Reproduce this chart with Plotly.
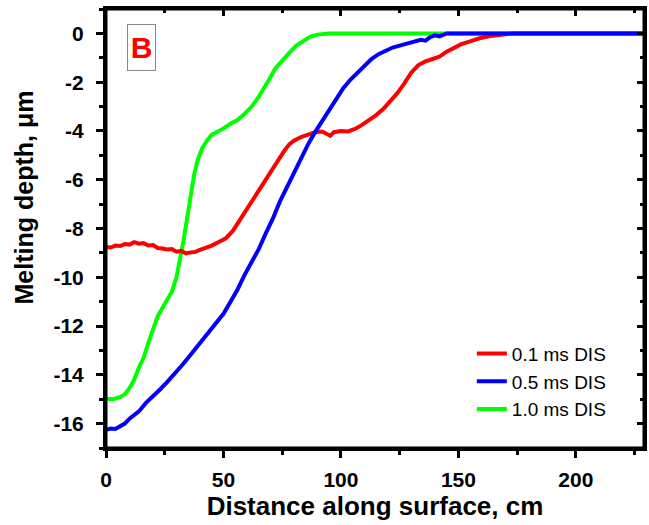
import plotly.graph_objects as go

# 0.1 ms DIS (red)
red_x = [0, 2, 4, 6, 8, 10, 12, 14, 16, 18, 20, 22, 24, 26, 28, 30, 32, 34, 36, 38, 40, 42, 45, 48, 51, 54, 56, 58, 60, 62, 64, 66, 68, 70, 72, 74, 76, 78, 80, 83, 86, 89, 92, 94, 95.5, 97, 100, 103, 106, 109, 112, 115, 118, 121, 124, 127, 130, 133, 136, 139, 142, 145, 148, 151, 155, 159, 163, 168, 173, 229]
red_y = [-8.76, -8.78, -8.7, -8.72, -8.64, -8.66, -8.56, -8.62, -8.6, -8.7, -8.68, -8.8, -8.82, -8.86, -8.84, -8.95, -8.92, -9.02, -8.98, -8.96, -8.88, -8.82, -8.7, -8.55, -8.4, -8.1, -7.8, -7.5, -7.2, -6.9, -6.6, -6.3, -6.0, -5.7, -5.35, -5.05, -4.8, -4.55, -4.4, -4.25, -4.15, -4.05, -4.02, -4.1, -4.2, -4.05, -4.0, -4.02, -3.92, -3.75, -3.55, -3.35, -3.1, -2.8, -2.45, -2.05, -1.6, -1.3, -1.15, -1.05, -0.95, -0.75, -0.6, -0.45, -0.33, -0.2, -0.12, -0.05, 0, 0]

# 0.5 ms DIS (blue)
blue_x = [0, 2, 4, 6, 8, 10, 12, 14, 17, 20, 23, 26, 29, 32, 35, 38, 41, 44, 47, 50, 53, 56, 59, 62, 65, 68, 71, 74, 77, 80, 83, 86, 89, 92, 95, 98, 101, 104, 107, 110, 113, 116, 119, 122, 125, 128, 131, 134, 136, 138, 140, 142, 145, 229]
blue_y = [-16.25, -16.2, -16.22, -16.1, -16.0, -15.8, -15.65, -15.5, -15.15, -14.9, -14.6, -14.3, -14.0, -13.65, -13.3, -12.95, -12.6, -12.25, -11.9, -11.5, -11.0, -10.5, -9.9, -9.4, -8.85, -8.2, -7.6, -6.9, -6.3, -5.7, -5.1, -4.55, -4.05, -3.6, -3.1, -2.65, -2.25, -1.9, -1.6, -1.3, -1.05, -0.85, -0.7, -0.58, -0.5, -0.42, -0.38, -0.26, -0.3, -0.15, -0.08, -0.12, 0, 0]

# 1.0 ms DIS (green)
green_x = [0, 3, 6, 8, 10, 12, 14, 16, 18, 20, 22, 25, 28, 30, 31.5, 33, 34.5, 36, 37.5, 39, 41, 43, 45, 47, 50, 53, 56, 59, 62, 65, 67, 70, 72, 75, 78, 81, 84, 87, 90, 95, 229]
green_y = [-14.98, -15.0, -14.92, -14.8, -14.55, -14.2, -13.7, -13.3, -12.7, -12.1, -11.6, -11.1, -10.6, -10.0, -9.3, -8.5, -7.6, -6.6, -5.8, -5.2, -4.7, -4.4, -4.15, -4.05, -3.9, -3.7, -3.55, -3.3, -3.0, -2.6, -2.3, -1.8, -1.45, -1.1, -0.8, -0.5, -0.3, -0.13, -0.05, 0, 0]

names = ["0.1 ms DIS", "0.5 ms DIS", "1.0 ms DIS"]
x_ticks = [0, 50, 100, 150, 200]
x_labels = ["0", "50", "100", "150", "200"]
y_ticks = [0, -2, -4, -6, -8, -10, -12, -14, -16]
y_labels = ["0", "-2", "-4", "-6", "-8", "-10", "-12", "-14", "-16"]
x_range = [0, 229]
y_range = [-17, 1]

FONT = "Liberation Sans, Arial"

fig = go.Figure()
fig.add_trace(go.Scatter(x=green_x, y=green_y, mode="lines", name=names[2],
                         line=dict(color="#00FF00", width=4), legendrank=3))
fig.add_trace(go.Scatter(x=red_x, y=red_y, mode="lines", name=names[0],
                         line=dict(color="#FF0000", width=4), legendrank=1))
fig.add_trace(go.Scatter(x=blue_x, y=blue_y, mode="lines", name=names[1],
                         line=dict(color="#0000FF", width=4), legendrank=2,
                         xaxis="x2", yaxis="y2"))

tickfont = dict(family=FONT, size=21, color="black", weight="bold")
titlefont = dict(family=FONT, size=25, color="black", weight="bold")

common = dict(tickmode="array", tickwidth=3, tickcolor="black", showline=True,
              linewidth=3, linecolor="black", showgrid=False, zeroline=False)

fig.update_layout(
    width=649, height=525,
    margin=dict(l=106, r=2, t=9, b=77),
    paper_bgcolor="white", plot_bgcolor="white",
    showlegend=True,
    legend=dict(x=0.68, y=0.258, xanchor="left", yanchor="top",
                font=dict(family=FONT, size=19, color="black"),
                bgcolor="rgba(0,0,0,0)", tracegroupgap=0),
    xaxis=dict(range=x_range, tickvals=x_ticks, ticktext=x_labels, ticks="outside", ticklen=7,
               minor=dict(dtick=25, ticks="outside", ticklen=4, tickwidth=3, tickcolor="black"),
               tickfont=tickfont, ticklabelstandoff=4, mirror=True,
               title=dict(text="Distance along surface, cm",
                          font=dict(family=FONT, size=26, color="black", weight="bold"), standoff=4),
               **common),
    yaxis=dict(range=y_range, tickvals=y_ticks, ticktext=y_labels, ticks="outside", ticklen=7,
               minor=dict(dtick=1, ticks="outside", ticklen=4, tickwidth=3, tickcolor="black"),
               tickfont=tickfont, ticklabelstandoff=8, mirror=True,
               **common),
    xaxis2=dict(range=x_range, overlaying="x", side="top", anchor="y2", tickvals=x_ticks,
                ticks="inside", ticklen=7,
                minor=dict(dtick=25, ticks="inside", ticklen=4, tickwidth=3, tickcolor="black"),
                showticklabels=False, **common),
    yaxis2=dict(range=y_range, overlaying="y", side="right", anchor="x2", tickvals=y_ticks,
                ticks="inside", ticklen=7,
                minor=dict(dtick=1, ticks="inside", ticklen=4, tickwidth=3, tickcolor="black"),
                showticklabels=False, **common),
)

# plot frame
fig.add_shape(type="rect", xref="paper", yref="paper", x0=0, y0=0, x1=1, y1=1,
              line=dict(color="black", width=3), layer="above")

fig.add_annotation(text="Melting depth, μm", xref="paper", yref="paper",
                   x=-0.153, y=0.57, xanchor="center", yanchor="middle", textangle=-90,
                   showarrow=False, font=titlefont)

fig.add_annotation(text="B", xref="paper", yref="paper", x=0.0387, y=0.965,
                   xanchor="left", yanchor="top", showarrow=False,
                   font=dict(family=FONT, size=30, color="#FF0000", weight="bold"),
                   width=25, height=43, borderpad=1,
                   bordercolor="#888888", borderwidth=1, bgcolor="white")

fig.write_html("out.html")
